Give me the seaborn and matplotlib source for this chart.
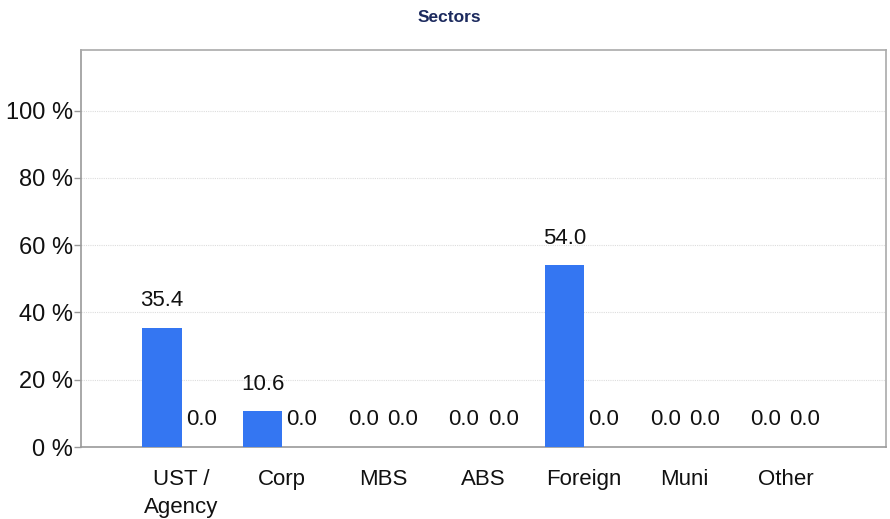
import matplotlib
matplotlib.use("Agg")
import matplotlib.pyplot as plt
import seaborn as sns
import pandas as pd

sectors = ["UST /\nAgency", "Corp", "MBS", "ABS", "Foreign", "Muni", "Other"]
portfolio = [35.4, 10.6, 0.0, 0.0, 54.0, 0.0, 0.0]
benchmark = [0.0, 0.0, 0.0, 0.0, 0.0, 0.0, 0.0]
y_ticks = [0, 20, 40, 60, 80, 100]

sns.set_theme(style="white")
plt.rcParams["font.family"] = ["Liberation Sans", "DejaVu Sans"]

df = pd.DataFrame({
    "Sector": sectors * 2,
    "Series": ["Portfolio"] * len(sectors) + ["Benchmark"] * len(sectors),
    "Weight": portfolio + benchmark,
})

fig = plt.figure(figsize=(8.9, 5.19), dpi=100)
ax = fig.add_axes([81 / 890, 1 - 447 / 519, 805 / 890, 397 / 519])

sns.barplot(data=df, x="Sector", y="Weight", hue="Series",
            palette={"Portfolio": "#3476f2", "Benchmark": "#e8a33d"},
            width=0.78, saturation=1, legend=False, ax=ax, zorder=3,
            linewidth=0)

for cont in ax.containers:
    ax.bar_label(cont, fmt="%.1f", padding=12, fontsize=16, color="#111111")

ax.set_xlim(-1, len(sectors))
ax.set_ylim(0, 118)
ax.set_yticks(y_ticks)
ax.set_yticklabels([f"{v} %" for v in y_ticks], fontsize=17, color="#111111")
ax.tick_params(axis="x", labelsize=16, colors="#111111", length=0, pad=16)
ax.tick_params(axis="y", left=True, length=5, width=1, color="#999999", pad=1)
for lbl in ax.get_xticklabels():
    lbl.set_color("#111111")
    lbl.set_linespacing(1.45)
ax.set_xlabel("")
ax.set_ylabel("")

ax.yaxis.grid(True, color="#dddddd", linestyle=(0, (1, 1)), linewidth=0.8, zorder=0)
ax.xaxis.grid(False)
for side in ["left", "bottom"]:
    ax.spines[side].set_color("#9a9a9a")
    ax.spines[side].set_linewidth(1.2)
for side in ["top", "right"]:
    ax.spines[side].set_color("#aaaaaa")
    ax.spines[side].set_linewidth(1.2)

fig.text(449 / 890, 1 - 17 / 519, "Sectors", ha="center", va="center",
         fontsize=12.5, fontweight="bold", color="#1c2a5e")

fig.savefig("out.png", dpi=100)
